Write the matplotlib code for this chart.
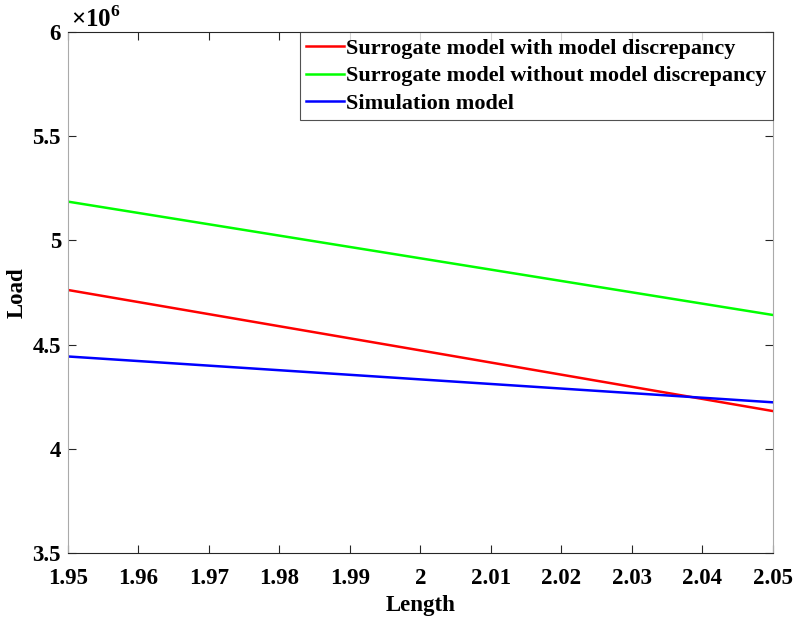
import matplotlib.pyplot as plt
from matplotlib.ticker import FuncFormatter

plt.rcParams['font.family'] = ['Liberation Serif', 'DejaVu Serif']
plt.rcParams['font.weight'] = 'bold'
plt.rcParams['mathtext.fontset'] = 'custom'
plt.rcParams['mathtext.rm'] = 'Liberation Serif'

length = [1.95, 2.00, 2.05]
load_with_md = [4.762e6, 4.472e6, 4.181e6]
load_without_md = [5.186e6, 4.914e6, 4.642e6]
load_sim = [4.443e6, 4.333e6, 4.223e6]

fig = plt.figure(figsize=(7.95, 6.21), dpi=100)
ax = fig.add_axes([0.0855, 0.1095, 0.8868, 0.839])

ax.plot(length, load_with_md, color=(1, 0, 0), lw=1.8, label="Surrogate model with model discrepancy")
ax.plot(length, load_without_md, color=(0, 1, 0), lw=1.8, label="Surrogate model without model discrepancy")
ax.plot(length, load_sim, color=(0, 0, 1), lw=1.8, label="Simulation model")

ax.set_xlim(1.95, 2.05)
ax.set_ylim(3.5e6, 6e6)
ax.set_xticks([1.95 + 0.01 * i for i in range(11)])
ax.set_yticks([3.5e6, 4e6, 4.5e6, 5e6, 5.5e6, 6e6])
ax.xaxis.set_major_formatter(FuncFormatter(lambda v, p: "%g" % round(v, 2)))
ax.yaxis.set_major_formatter(FuncFormatter(lambda v, p: "%g" % (v / 1e6)))
ax.tick_params(direction='in', top=True, right=True, labelsize=16.5, length=6, width=0.8, colors='#262626')
ax.tick_params(axis='x', pad=11)
ax.tick_params(axis='y', pad=5)
for lbl in ax.get_xticklabels() + ax.get_yticklabels():
    lbl.set_color('black')
for s in ax.spines.values():
    s.set_linewidth(0.8)
    s.set_color('#262626')
ax.spines['left'].set_color('#aaaaaa')
ax.spines['right'].set_color('#aaaaaa')

ax.text(0.004, 1.0, r'$\times10^{6}$', transform=ax.transAxes, fontsize=18,
        ha='left', va='bottom', fontweight='normal')

ax.set_xlabel("Length", fontsize=16.5, fontweight='bold', labelpad=4)
ax.set_ylabel("Load", fontsize=16.5, fontweight='bold')
ax.yaxis.set_label_coords(-0.057, 0.5)

leg = ax.legend(loc='upper right', fontsize=16, frameon=True, fancybox=False,
                edgecolor='#262626', borderaxespad=0, handlelength=1.7,
                handletextpad=0.1, labelspacing=0.32, borderpad=0.28)
leg.get_frame().set_linewidth(0.8)
for t in leg.get_texts():
    t.set_fontweight('bold')

fig.savefig("out.png", dpi=100)
